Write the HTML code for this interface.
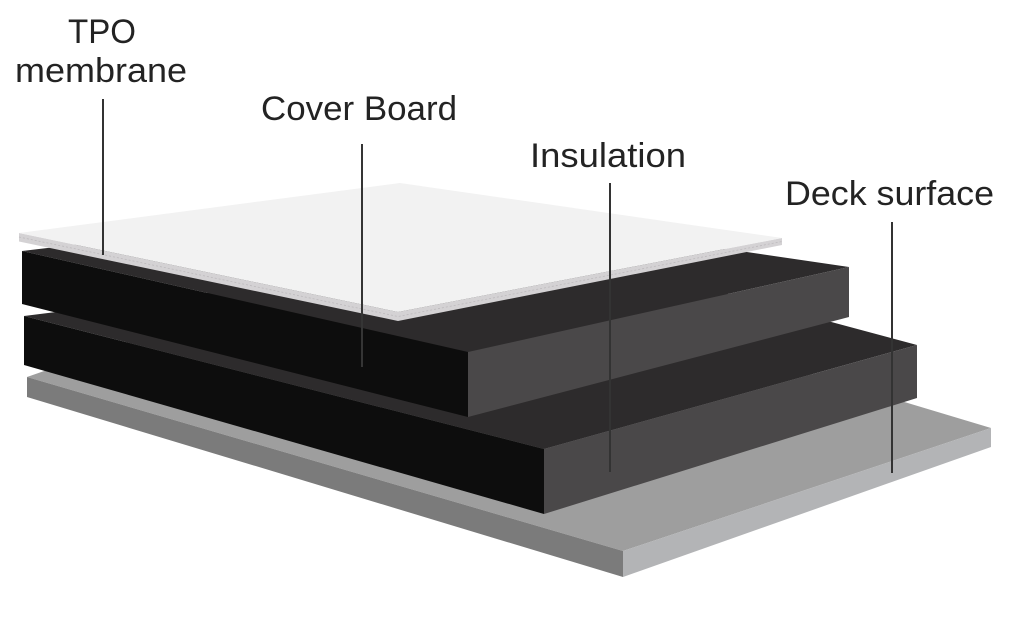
<!DOCTYPE html>
<html>
<head>
<meta charset="utf-8">
<style>
  html, body { margin: 0; padding: 0; background: #ffffff; }
  body { width: 1010px; height: 632px; overflow: hidden; }
  svg { display: block; }
  .lbl { font-family: "Liberation Sans", sans-serif; font-size: 34px; fill: #232323; }
</style>
</head>
<body>
<svg width="1010" height="632" viewBox="0 0 1010 632" xmlns="http://www.w3.org/2000/svg">
  <rect x="0" y="0" width="1010" height="632" fill="#ffffff"/>

  <!-- Deck -->
  <polygon points="27,377 394,249 991,428 623,551" fill="#9e9e9e"/>
  <polygon points="27,377 623,551 623,577 27,397" fill="#7b7b7b"/>
  <polygon points="623,551 991,428 991,447 623,577" fill="#b3b4b6"/>

  <!-- Bottom insulation board -->
  <polygon points="24,316 560,249 917,345 544,449" fill="#2d2b2c"/>
  <polygon points="24,316 544,449 544,514 24,365" fill="#0d0d0d"/>
  <polygon points="544,449 917,345 917,398 544,514" fill="#4a4849"/>

  <!-- Top board -->
  <polygon points="22,251 420,204 849,267 468,352" fill="#2d2b2c"/>
  <polygon points="22,251 468,352 468,417 22,304" fill="#0d0d0d"/>
  <polygon points="468,352 849,267 849,317 468,417" fill="#4a4849"/>

  <!-- TPO membrane -->
  <polygon points="19,233 398,312 782,238 782,245 398,321 19,241.5" fill="#d4d2d4"/>
  <polyline points="19,237 398,316.5 782,241.5" fill="none" stroke="#bdbabd" stroke-width="0.8" stroke-dasharray="2,2"/>
  <polygon points="19,233 400,183 782,238 398,312" fill="#f2f2f2"/>

  <!-- Leader lines -->
  <line x1="103" y1="99" x2="103" y2="255" stroke="#333333" stroke-width="2"/>
  <line x1="362" y1="144" x2="362" y2="367" stroke="#353535" stroke-width="2"/>
  <line x1="610" y1="183" x2="610" y2="472" stroke="#333333" stroke-width="2"/>
  <line x1="892" y1="222" x2="892" y2="473" stroke="#333333" stroke-width="2"/>

  <!-- Labels -->
  <text class="lbl" x="68" y="43" textLength="68" lengthAdjust="spacingAndGlyphs">TPO</text>
  <text class="lbl" x="15" y="82" textLength="172" lengthAdjust="spacingAndGlyphs">membrane</text>
  <text class="lbl" x="261" y="120" textLength="196" lengthAdjust="spacingAndGlyphs">Cover Board</text>
  <text class="lbl" x="530" y="167" textLength="156" lengthAdjust="spacingAndGlyphs">Insulation</text>
  <text class="lbl" x="785" y="205" textLength="209" lengthAdjust="spacingAndGlyphs">Deck surface</text>
</svg>
</body>
</html>
